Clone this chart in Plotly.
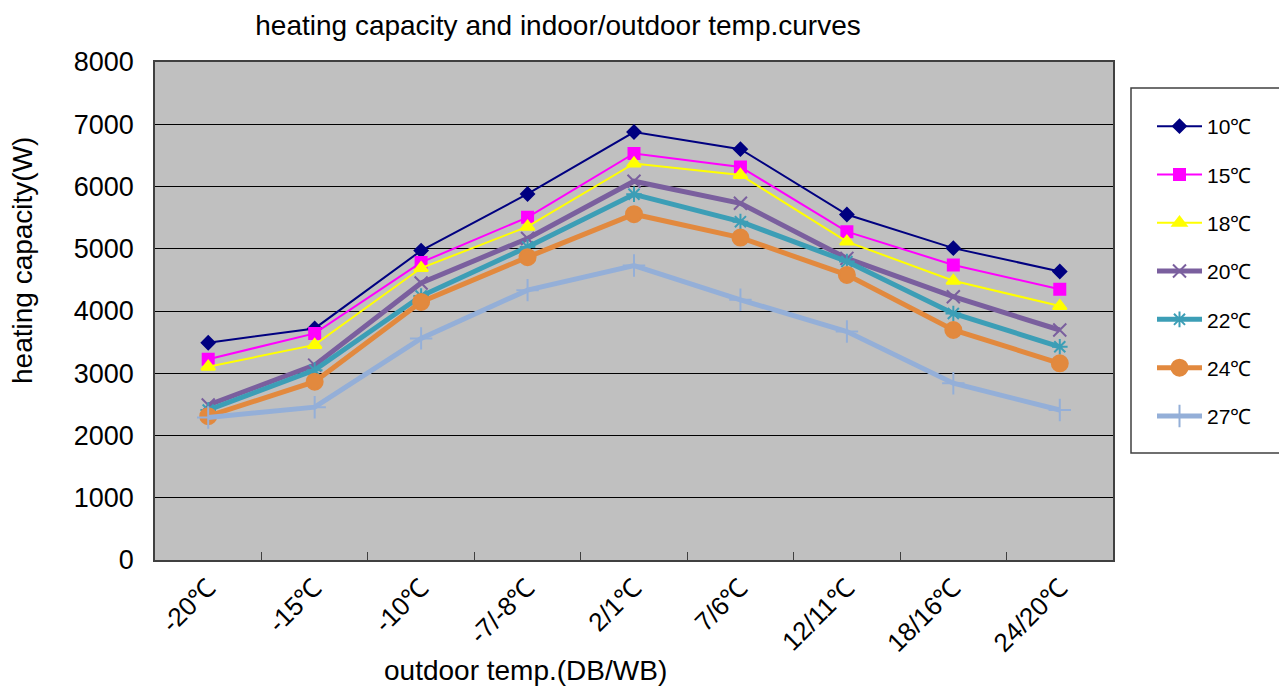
import plotly.graph_objects as go

# Outdoor conditions (DB/WB) on the x axis
outdoor = ["-20℃", "-15℃", "-10℃", "-7/-8℃", "2/1℃", "7/6℃", "12/11℃", "18/16℃", "24/20℃"]

# Heating capacity (W) for each indoor temperature
cap_10 = [3490, 3720, 4970, 5880, 6875, 6600, 5550, 5010, 4635]
cap_15 = [3225, 3640, 4780, 5505, 6530, 6315, 5275, 4740, 4350]
cap_18 = [3105, 3455, 4690, 5355, 6370, 6185, 5115, 4485, 4080]
cap_20 = [2490, 3130, 4450, 5165, 6085, 5730, 4845, 4230, 3695]
cap_22 = [2410, 3050, 4240, 5030, 5875, 5435, 4795, 3960, 3425]
cap_24 = [2310, 2865, 4145, 4865, 5555, 5180, 4580, 3695, 3160]
cap_27 = [2290, 2455, 3560, 4335, 4730, 4180, 3670, 2840, 2410]

series = [
    ("10℃", cap_10, "#000080", 2, "diamond", 10),
    ("15℃", cap_15, "#FF00FF", 2, "square", 11),
    ("18℃", cap_18, "#FFFF00", 2, "triangle-up", 12),
    ("20℃", cap_20, "#7A5F9E", 5, "x-thin-open", 13),
    ("22℃", cap_22, "#3C9EB6", 5, "asterisk-open", 13),
    ("24℃", cap_24, "#E2893E", 5, "circle", 16),
    ("27℃", cap_27, "#94AFD8", 5, "cross-thin-open", 16),
]

fig = go.Figure()
for i, (name, vals, color, lw, sym, msize) in enumerate(series):
    fig.add_trace(go.Scatter(
        x=outdoor, y=vals, name=name, mode="lines+markers",
        legendgroup=f"g{i}",
        line=dict(color=color, width=lw),
        marker=dict(symbol=sym, size=msize, color=color,
                    line=dict(color=color, width=2)),
    ))

font_family = "Liberation Sans, Arial, sans-serif"

# plot area in pixels: x 155..1113, y 62..560
L, R, T, B = 155, 1113, 62, 560
W, H = R - L, B - T


def px_x(x):
    return (x - L) / W


def px_y(y):
    return (B - y) / H


fig.update_layout(
    width=1279, height=691,
    margin=dict(l=L, r=1279 - R, t=T, b=691 - B),
    paper_bgcolor="white",
    plot_bgcolor="#C0C0C0",
    font=dict(family=font_family, size=27, color="black"),
    title=dict(text="heating capacity and indoor/outdoor temp.curves",
               x=558 / 1279, xanchor="center", y=1 - 25 / 691, yanchor="middle",
               font=dict(size=28)),
    showlegend=True,
    legend=dict(
        x=px_x(1152), xanchor="left",
        y=px_y(106), yanchor="top",
        bgcolor="rgba(0,0,0,0)", borderwidth=0,
        traceorder="grouped", tracegroupgap=18,
        itemwidth=45,
        font=dict(size=21),
    ),
    shapes=[dict(type="rect", xref="paper", yref="paper",
                 x0=px_x(1131), x1=px_x(1290),
                 y0=px_y(453), y1=px_y(88),
                 line=dict(color="#404040", width=1.5), fillcolor="rgba(0,0,0,0)")],
    annotations=[
        dict(text="heating capacity(W)", xref="paper", yref="paper",
             x=px_x(22), y=px_y(261), xanchor="center", yanchor="middle",
             textangle=-90, showarrow=False, font=dict(size=28)),
        dict(text="outdoor temp.(DB/WB)", xref="paper", yref="paper",
             x=px_x(525), y=px_y(670), xanchor="center", yanchor="middle",
             showarrow=False, font=dict(size=28)),
    ],
)

fig.update_xaxes(
    type="category", range=[-0.5, len(outdoor) - 0.5], tickangle=-45,
    tickson="boundaries", ticks="inside", ticklen=8, tickcolor="#404040",
    showgrid=False, showline=True, linecolor="#404040", linewidth=1.5, mirror=True,
    tickfont=dict(size=26),
)
fig.update_yaxes(
    range=[0, 8000], dtick=1000,
    showgrid=True, gridcolor="black", gridwidth=1.2,
    ticks="outside", ticklen=14, tickcolor="rgba(0,0,0,0)",
    showline=True, linecolor="#404040", linewidth=1.5, mirror=True,
    zeroline=False,
    tickfont=dict(size=27),
)

fig.write_html("out.html")
